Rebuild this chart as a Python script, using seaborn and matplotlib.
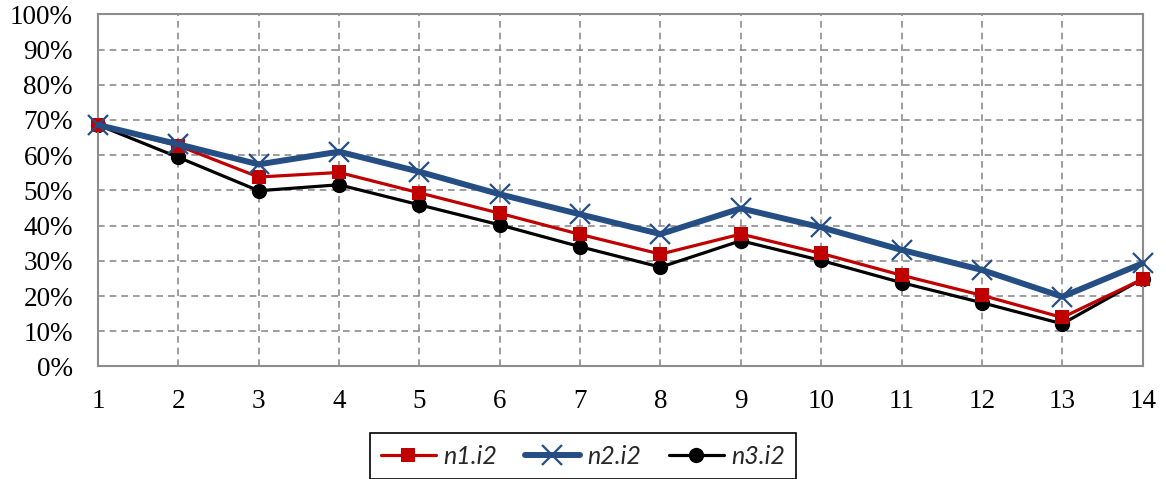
import matplotlib
matplotlib.use("Agg")
import matplotlib.pyplot as plt
import seaborn as sns
import pandas as pd
from matplotlib.ticker import FuncFormatter, MultipleLocator

x_vals = list(range(1, 15))
n1_i2 = [68.5, 62.7, 53.8, 55.1, 49.3, 43.5, 37.5, 31.9, 37.6, 32.1, 25.9, 20.2, 13.9, 24.8]
n2_i2 = [68.6, 63.1, 57.4, 61.0, 55.3, 48.9, 43.2, 37.6, 44.9, 39.5, 33.1, 27.4, 19.8, 29.3]
n3_i2 = [68.6, 59.4, 49.9, 51.6, 45.9, 40.2, 34.0, 28.2, 35.7, 30.1, 23.8, 18.1, 12.1, 24.9]
series_names = ["n1.i2", "n2.i2", "n3.i2"]

df = pd.DataFrame({
    "x": x_vals * 3,
    "value": n1_i2 + n2_i2 + n3_i2,
    "series": sum([[s] * len(x_vals) for s in series_names], []),
})

sns.set_theme(style="white")
plt.rcParams["font.family"] = ["Liberation Serif", "DejaVu Serif"]

fig = plt.figure(figsize=(11.66, 4.79), dpi=100)
ax = fig.add_axes([0.084, 0.235, 0.896, 0.735])

styles = {
    "n1.i2": dict(color="#C00000", lw=2.3, marker="s", ms=10, mew=0, zorder=3),
    "n2.i2": dict(color="#254E85", lw=4.3, marker="x", ms=14, mew=1.6, zorder=4),
    "n3.i2": dict(color="#000000", lw=2.3, marker="o", ms=11, mew=0, zorder=2),
}

for s in series_names:
    st = styles[s]
    sub = df[df["series"] == s]
    sns.lineplot(data=sub, x="x", y="value", ax=ax, color=st["color"], lw=st["lw"],
                 marker=st["marker"], markersize=st["ms"], markeredgewidth=st["mew"],
                 markeredgecolor=st["color"], label=s, zorder=st["zorder"],
                 clip_on=False)

ax.set_xlim(1, 14)
ax.set_ylim(0, 100)
ax.xaxis.set_major_locator(MultipleLocator(1))
ax.yaxis.set_major_locator(MultipleLocator(10))
ax.yaxis.set_major_formatter(FuncFormatter(lambda v, p: f"{int(round(v))}%"))
ax.set_xlabel("")
ax.set_ylabel("")
ax.grid(True, color="#8c8c8c", linestyle=(0, (4, 3)), linewidth=1.2)
ax.set_axisbelow(True)
for sp in ax.spines.values():
    sp.set_color("#8c8c8c")
    sp.set_linewidth(1.5)
ax.tick_params(axis="both", length=0, labelsize=19.5, colors="black")
ax.tick_params(axis="y", pad=18)
ax.tick_params(axis="x", pad=16)

ax.get_legend().remove()
handles, labels = ax.get_legend_handles_labels()
leg = fig.legend(handles, labels, loc="center", bbox_to_anchor=(0.5, 0.048), ncol=3,
                 frameon=True, fancybox=False, edgecolor="black", framealpha=1,
                 prop={"family": ["Lato", "DejaVu Sans"], "style": "italic", "size": 18},
                 handlelength=2.2, columnspacing=1.1, borderpad=0.45, handletextpad=0.3,
                 borderaxespad=0.0)
leg.get_frame().set_linewidth(1.2)

fig.savefig("out.png", dpi=100)
